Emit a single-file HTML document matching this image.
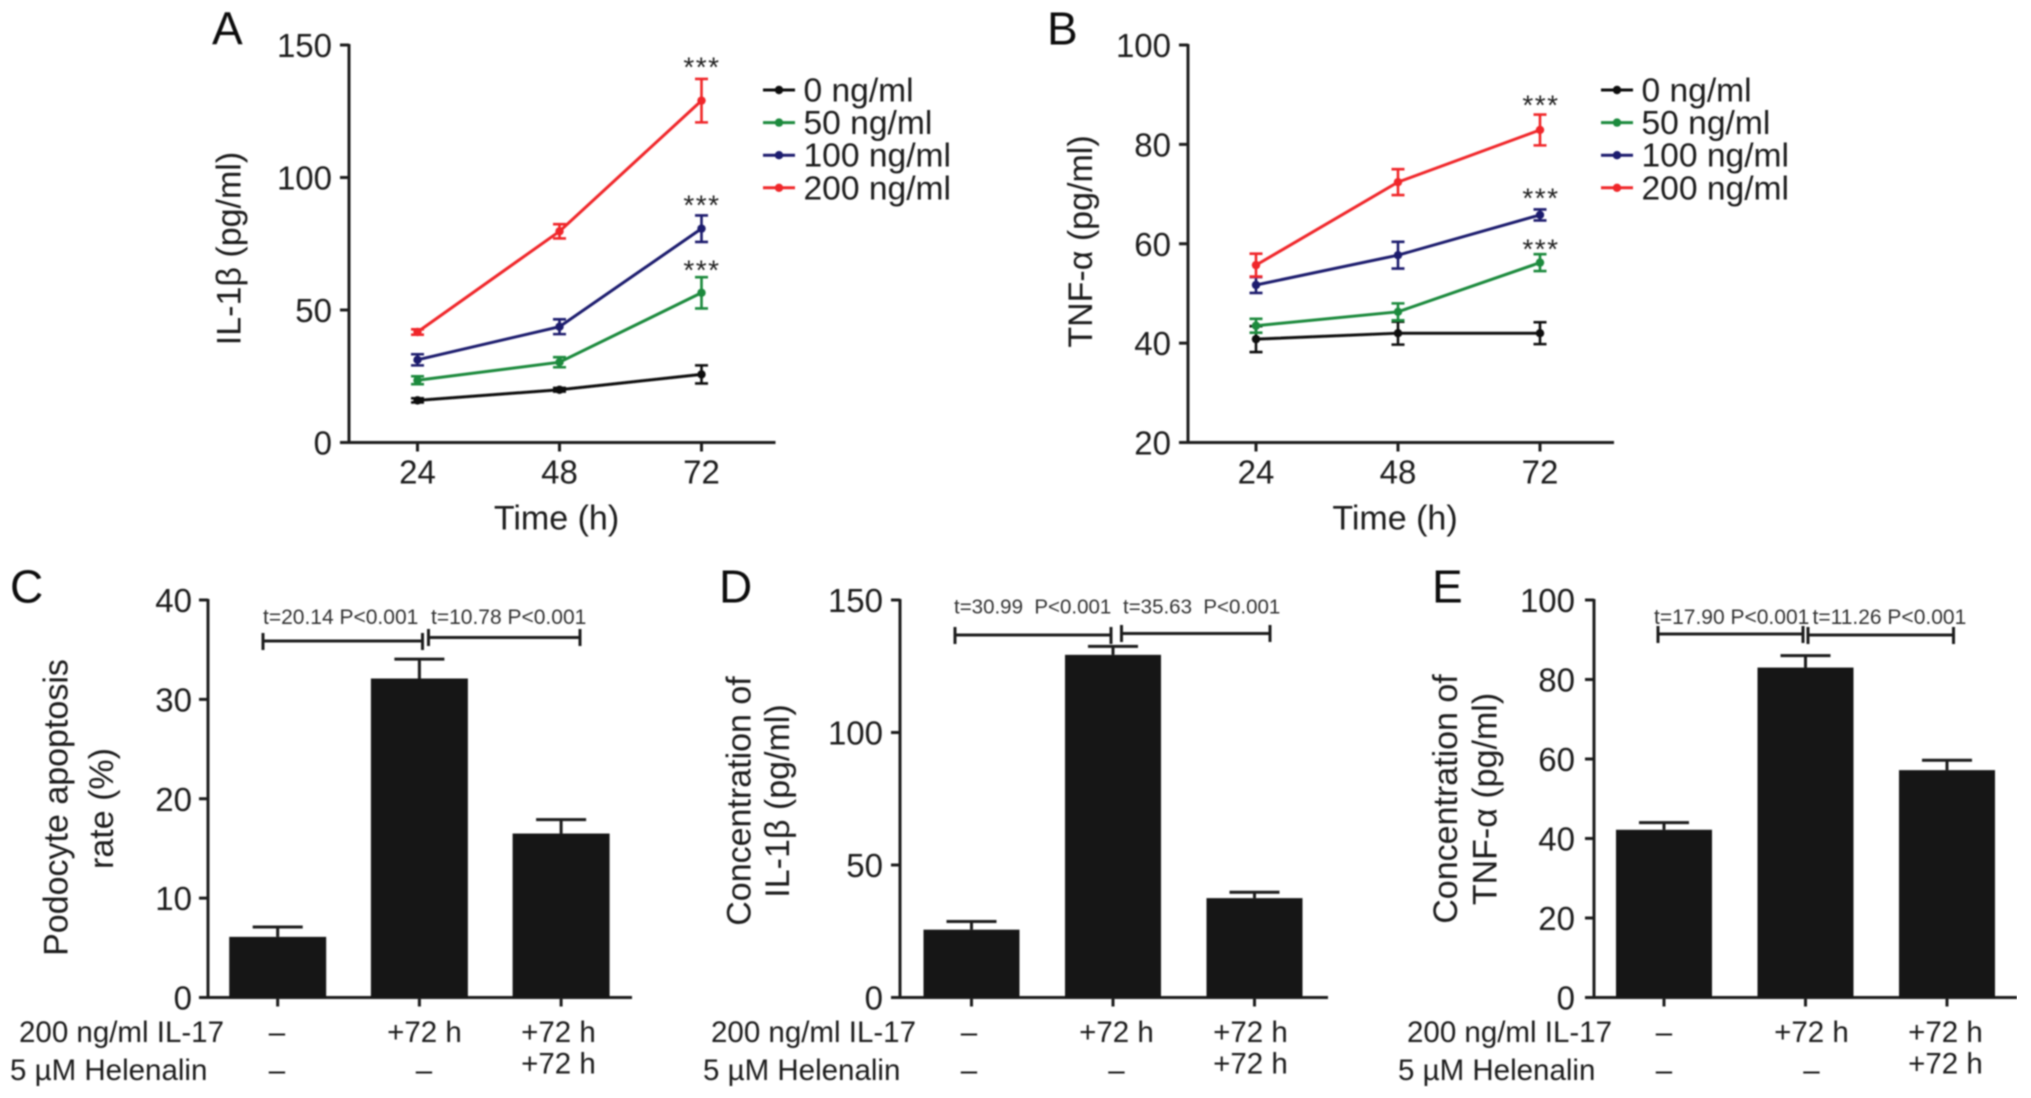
<!DOCTYPE html>
<html lang="en">
<head>
<meta charset="utf-8">
<title>IL-1β and TNF-α concentration figure</title>
<style>
html,body{margin:0;padding:0;background:#fff;}
svg{display:block;font-family:"Liberation Sans",sans-serif;}
text{fill:#1c1c1c;}
.tl{font-size:33px;}
.tt{font-size:34px;}
.lg{font-size:33.6px;}
.letter{font-size:46px;fill:#111;}
.row{font-size:29.5px;}
.note{font-size:21px;fill:#333;}
.note2{font-size:20.5px;fill:#333;}
.star{font-size:28px;letter-spacing:1.5px;text-anchor:middle;fill:#222;}
.mid{text-anchor:middle;}
.brk{stroke:#1a1a1a;stroke-width:3;fill:none;}
</style>
</head>
<body>
<svg id="figure" xmlns="http://www.w3.org/2000/svg" width="2031" height="1098" viewBox="0 0 2031 1098">
<defs><filter id="soft" x="0" y="0" width="100%" height="100%"><feGaussianBlur stdDeviation="0.8"/></filter></defs>
<rect width="2031" height="1098" fill="#fff"/>
<g id="root" filter="url(#soft)">

<g id="panelA">
<text class="letter" x="212" y="44.5">A</text>
<text class="tt mid" transform="translate(240.5,248.5) rotate(-90)">IL-1β (pg/ml)</text>
<text class="tt mid" x="556.5" y="529.5">Time (h)</text>
<text class="star" x="702" y="76.5">***</text>
<text class="star" x="702" y="214.5">***</text>
<text class="star" x="702" y="279.5">***</text>
</g>

<g id="panelB">
<text class="letter" x="1047" y="44.5">B</text>
<text class="tt mid" transform="translate(1092,241.5) rotate(-90)">TNF-α (pg/ml)</text>
<text class="tt mid" x="1395" y="529.5">Time (h)</text>
<text class="star" x="1541" y="114.5">***</text>
<text class="star" x="1541" y="207.5">***</text>
<text class="star" x="1541" y="258.5">***</text>
</g>

<g id="panelC">
<text class="letter" x="10" y="602.5">C</text>
<text class="tt mid" transform="translate(67.5,807.5) rotate(-90)">Podocyte apoptosis</text>
<text class="tt mid" transform="translate(113,808.5) rotate(-90)">rate (%)</text>
<text class="note" x="263" y="624">t=20.14 P&lt;0.001</text>
<text class="note" x="431" y="624">t=10.78 P&lt;0.001</text>
<path class="brk" d="M263 633V650M263 641H422.5M422.5 633V650"/>
<path class="brk" d="M428.5 629V646M428.5 637.5H580M580 629V646"/>
<text class="row" x="19" y="1042">200 ng/ml IL-17</text>
<text class="row" x="10" y="1080">5 µM Helenalin</text>
<text class="row mid" x="277" y="1042">–</text>
<text class="row mid" x="424.5" y="1042">+72 h</text>
<text class="row mid" x="558.5" y="1042">+72 h</text>
<text class="row mid" x="277" y="1080">–</text>
<text class="row mid" x="424" y="1080">–</text>
<text class="row mid" x="558.5" y="1073.5">+72 h</text>
</g>

<g id="panelD">
<text class="letter" x="719" y="602.5">D</text>
<text class="tt mid" transform="translate(750.5,801) rotate(-90)">Concentration of</text>
<text class="tt mid" transform="translate(789,801) rotate(-90)">IL-1β (pg/ml)</text>
<text class="note2" x="954" y="613.5" xml:space="preserve">t=30.99  P&lt;0.001</text>
<text class="note2" x="1123" y="613.5" xml:space="preserve">t=35.63  P&lt;0.001</text>
<path class="brk" d="M955 627V644M955 635H1111M1111 627V644"/>
<path class="brk" d="M1121.5 625V642M1121.5 633.5H1270M1270 625V642"/>
<text class="row" x="711" y="1042">200 ng/ml IL-17</text>
<text class="row" x="703" y="1080">5 µM Helenalin</text>
<text class="row mid" x="969" y="1042">–</text>
<text class="row mid" x="1116.5" y="1042">+72 h</text>
<text class="row mid" x="1250.5" y="1042">+72 h</text>
<text class="row mid" x="969" y="1080">–</text>
<text class="row mid" x="1116.5" y="1080">–</text>
<text class="row mid" x="1250.5" y="1073.5">+72 h</text>
</g>

<g id="panelE">
<text class="letter" x="1432" y="602.5">E</text>
<text class="tt mid" transform="translate(1457,799) rotate(-90)">Concentration of</text>
<text class="tt mid" transform="translate(1496.5,799) rotate(-90)">TNF-α (pg/ml)</text>
<text class="note" x="1654" y="624">t=17.90 P&lt;0.001</text>
<text class="note" x="1812.5" y="624">t=11.26 P&lt;0.001</text>
<path class="brk" d="M1658 626V643M1658 634H1803M1803 626V643"/>
<path class="brk" d="M1808 627V644M1808 635H1953.5M1953.5 627V644"/>
<text class="row" x="1407" y="1042">200 ng/ml IL-17</text>
<text class="row" x="1398" y="1080">5 µM Helenalin</text>
<text class="row mid" x="1664" y="1042">–</text>
<text class="row mid" x="1811.5" y="1042">+72 h</text>
<text class="row mid" x="1945.5" y="1042">+72 h</text>
<text class="row mid" x="1664" y="1080">–</text>
<text class="row mid" x="1811.5" y="1080">–</text>
<text class="row mid" x="1945.5" y="1073.5">+72 h</text>
</g>
</g>
</svg>

<script>
// ---- data ----
const timeCategories = [24, 48, 72];
const doseLabels = ['0 ng/ml', '50 ng/ml', '100 ng/ml', '200 ng/ml'];

const il1bTicks = [0, 50, 100, 150];
const il1bDose0 = [15.9, 19.9, 25.7];
const il1bDose0Err = [0.8, 0.7, 3.4];
const il1bDose50 = [23.5, 30.3, 56.5];
const il1bDose50Err = [1.5, 1.9, 5.9];
const il1bDose100 = [31.2, 43.7, 80.7];
const il1bDose100Err = [2.1, 2.8, 5];
const il1bDose200 = [41.7, 79.7, 129];
const il1bDose200Err = [1, 2.7, 8.2];

const tnfTicks = [20, 40, 60, 80, 100];
const tnfDose0 = [40.8, 42, 42];
const tnfDose0Err = [2.6, 2.3, 2.2];
const tnfDose50 = [43.5, 46.3, 56.2];
const tnfDose50Err = [1.4, 1.7, 1.7];
const tnfDose100 = [51.7, 57.7, 65.8];
const tnfDose100Err = [1.6, 2.7, 1.1];
const tnfDose200 = [55.7, 72.4, 82.9];
const tnfDose200Err = [2.3, 2.6, 3.1];

const apoptosisTicks = [0, 10, 20, 30, 40];
const apoptosisMeans = [6.1, 32.1, 16.5];
const apoptosisErr = [1, 1.95, 1.4];

const il1bBarTicks = [0, 50, 100, 150];
const il1bBarMeans = [25.6, 129.3, 37.5];
const il1bBarErr = [3.1, 3.2, 2.2];

const tnfBarTicks = [0, 20, 40, 60, 80, 100];
const tnfBarMeans = [42.2, 83, 57.2];
const tnfBarErr = [1.8, 3, 2.5];

const doseColors = ['#111111', '#1a8a3c', '#1f1c6e', '#f0282a'];

// ---- drawing ----
const NS = 'http://www.w3.org/2000/svg';
function make(tag, attrs, parent) {
  const node = document.createElementNS(NS, tag);
  for (const k in attrs) node.setAttribute(k, attrs[k]);
  parent.appendChild(node);
  return node;
}
function linearScale(d0, d1, r0, r1) {
  return function (v) { return r0 + (v - d0) * (r1 - r0) / (d1 - d0); };
}
function drawAxes(parent, f, y, ticks, xTickAt, xTickLabels) {
  const yLine = make('line', {x1: f.axisX, x2: f.axisX, y1: f.top - 1, y2: f.bottom + 1, stroke: '#1a1a1a', 'stroke-width': 3}, parent);
  
  
  const xLine = make('line', {x1: f.axisX - 9, x2: f.right, y1: f.bottom, y2: f.bottom, stroke: '#1a1a1a', 'stroke-width': 3}, parent);
  
  
  ticks.forEach(function (t) {
    const tick = make('line', {x1: f.axisX - 9, x2: f.axisX, y1: y(t), y2: y(t), stroke: '#1a1a1a', 'stroke-width': 3}, parent);
    
    
    const lab = make('text', {x: f.labelRight, y: y(t) + 12, 'text-anchor': 'end', class: 'tl'}, parent);
    
    
    lab.textContent = t;
  });
  xTickAt.forEach(function (px, i) {
    const tick = make('line', {x1: px, x2: px, y1: f.bottom, y2: f.bottom + 9, stroke: '#1a1a1a', 'stroke-width': 3}, parent);
    
    
    if (xTickLabels) {
      const lab = make('text', {x: px, y: f.bottom + 41, 'text-anchor': 'middle', class: 'tl'}, parent);
      
      
      lab.textContent = xTickLabels[i];
    }
  });
}
function drawLineChart(parent, f, ticks, seriesList, errList) {
  const x = linearScale(timeCategories[0], timeCategories[2], f.x24, f.x72);
  const y = linearScale(ticks[0], ticks[ticks.length - 1], f.bottom, f.top);
  drawAxes(parent, f, y, ticks, timeCategories.map(x), timeCategories);
  seriesList.forEach(function (vals, s) {
    const color = doseColors[s];
    const pts = vals.map(function (v, i) { return x(timeCategories[i]) + ',' + y(v); }).join(' ');
    const line = make('polyline', {points: pts, fill: 'none', stroke: color, 'stroke-width': 3}, parent);
    
    
    vals.forEach(function (v, i) {
      const cx = x(timeCategories[i]);
      const e = errList[s][i];
      const bar = make('path', {
        d: 'M' + (cx - 6.5) + ' ' + y(v + e) + 'H' + (cx + 6.5) + 'M' + cx + ' ' + y(v + e) + 'V' + y(v - e) + 'M' + (cx - 6.5) + ' ' + y(v - e) + 'H' + (cx + 6.5),
        fill: 'none', stroke: color, 'stroke-width': 2.6}, parent);
      
      
      const dot = make('circle', {cx: cx, cy: y(v), r: 4.2, fill: color}, parent);
      
      
    });
  });
  doseLabels.forEach(function (label, s) {
    const ly = f.legendY + s * f.legendStep;
    const key = make('line', {x1: f.legendX, x2: f.legendX + 32, y1: ly, y2: ly, stroke: doseColors[s], 'stroke-width': 3}, parent);
    
    
    const dot = make('circle', {cx: f.legendX + 16, cy: ly, r: 4.2, fill: doseColors[s]}, parent);
    
    
    const txt = make('text', {x: f.legendX + 40.5, y: ly + 11.5, class: 'lg'}, parent);
    
    
    txt.textContent = label;
  });
}
function drawBarChart(parent, f, ticks, means, errs) {
  const x = function (i) { return f.firstBar + i * f.barStep; };
  const y = linearScale(ticks[0], ticks[ticks.length - 1], f.bottom, f.top);
  drawAxes(parent, f, y, ticks, means.map(function (m, i) { return x(i); }), null);
  means.forEach(function (m, i) {
    const cx = x(i);
    const err = make('path', {
      d: 'M' + (cx - 25) + ' ' + y(m + errs[i]) + 'H' + (cx + 25) + 'M' + cx + ' ' + y(m + errs[i]) + 'V' + y(m),
      fill: 'none', stroke: '#1a1a1a', 'stroke-width': 3}, parent);
    
    
    const bar = make('rect', {x: cx - f.barWidth / 2, y: y(m), width: f.barWidth, height: y(0) - y(m), fill: '#141414'}, parent);
    
    
  });
}

drawLineChart(document.getElementById('panelA'),
  {axisX: 349, top: 45, bottom: 442.5, right: 775.5, labelRight: 332, x24: 417.5, x72: 701.5, legendX: 763, legendY: 90, legendStep: 32.6},
  il1bTicks, [il1bDose0, il1bDose50, il1bDose100, il1bDose200], [il1bDose0Err, il1bDose50Err, il1bDose100Err, il1bDose200Err]);
drawLineChart(document.getElementById('panelB'),
  {axisX: 1188, top: 45, bottom: 442.5, right: 1614, labelRight: 1171, x24: 1256, x72: 1540, legendX: 1601, legendY: 90, legendStep: 32.6},
  tnfTicks, [tnfDose0, tnfDose50, tnfDose100, tnfDose200], [tnfDose0Err, tnfDose50Err, tnfDose100Err, tnfDose200Err]);
drawBarChart(document.getElementById('panelC'),
  {axisX: 208, top: 600, bottom: 997.5, right: 632, labelRight: 192, firstBar: 277.7, barStep: 141.7, barWidth: 97},
  apoptosisTicks, apoptosisMeans, apoptosisErr);
drawBarChart(document.getElementById('panelD'),
  {axisX: 900, top: 600, bottom: 997.5, right: 1328, labelRight: 883, firstBar: 971.5, barStep: 141.5, barWidth: 96},
  il1bBarTicks, il1bBarMeans, il1bBarErr);
drawBarChart(document.getElementById('panelE'),
  {axisX: 1594, top: 600, bottom: 997.5, right: 2017, labelRight: 1575, firstBar: 1664, barStep: 141.5, barWidth: 96},
  tnfBarTicks, tnfBarMeans, tnfBarErr);
</script>
</body>
</html>
